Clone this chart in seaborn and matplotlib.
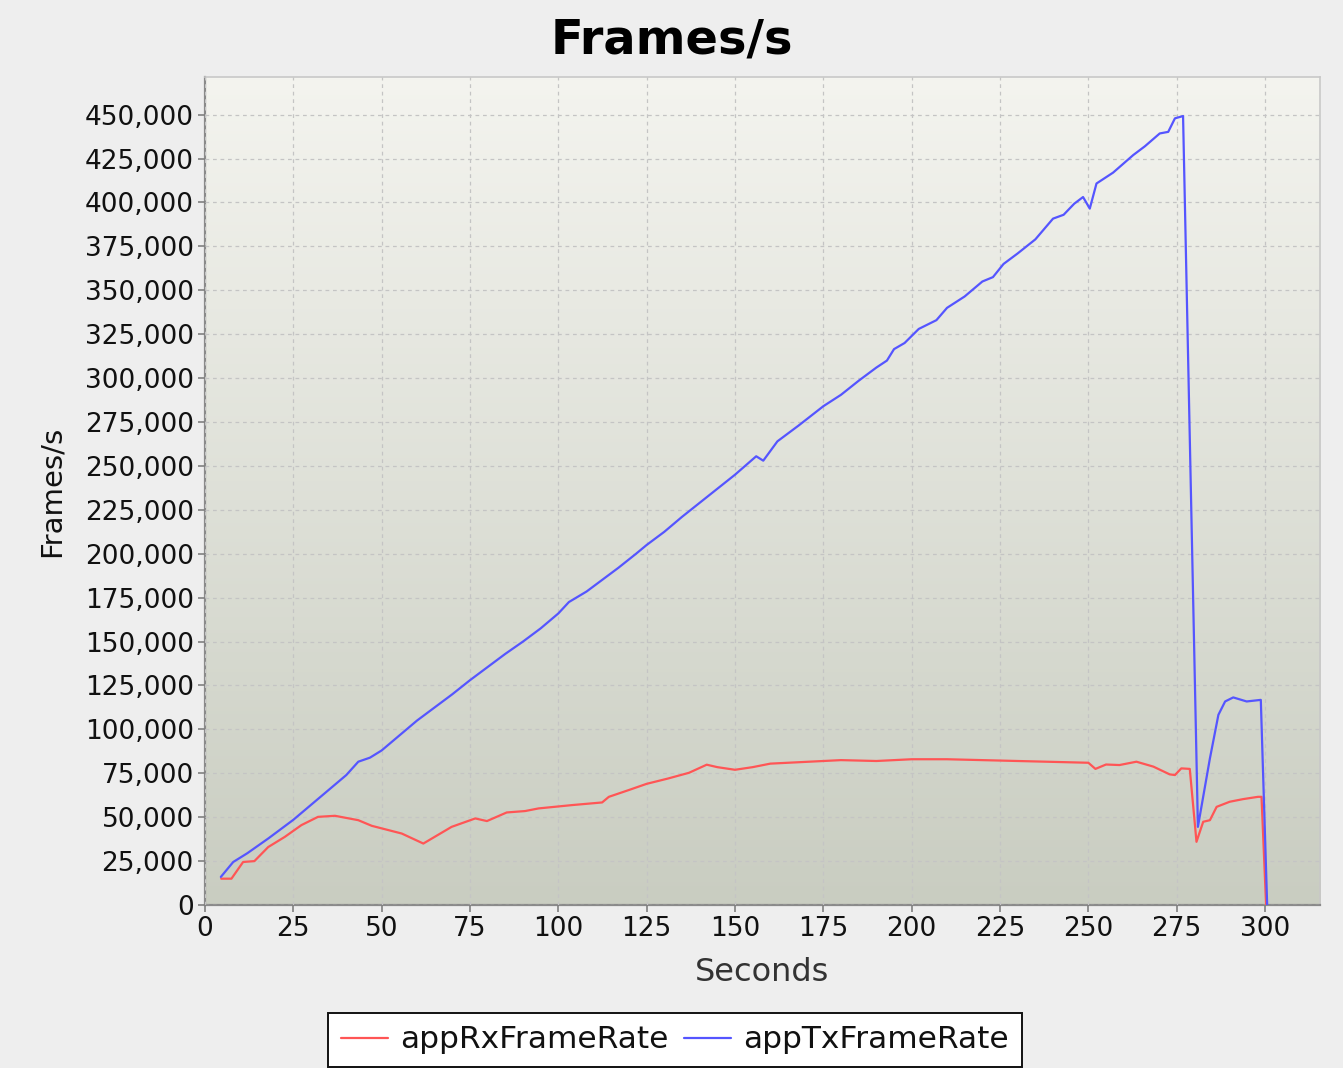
import matplotlib
matplotlib.use("Agg")

import matplotlib.pyplot as plt
import numpy as np
import pandas as pd
import seaborn as sns
from matplotlib.colors import LinearSegmentedColormap
from matplotlib.ticker import FuncFormatter, MultipleLocator

# appRxFrameRate (seconds, frames/s)
rx_seconds = [4.6, 7.5, 10.8, 14, 17.9, 22.6, 27.3, 32, 36.8, 43.4, 47.2, 55.7,
              61.8, 69.8, 76.5, 79.8, 85.4, 90.6, 94.4, 103.9, 112.4, 114.3,
              120, 125, 131, 137, 142, 145, 150, 155, 160, 170, 180, 190, 200,
              210, 220, 230, 240, 250, 252, 255, 258.8, 263.6, 268.4, 273,
              274.5, 276.3, 278.7, 280.6, 282.5, 284.4, 286.3, 290, 293.8,
              298, 299, 300.3]
rx_values = [15000, 15000, 24500, 25000, 33000, 38800, 45500, 50200, 50800,
             48300, 45100, 40700, 35000, 44500, 49300, 47800, 52700, 53500,
             55000, 56900, 58400, 61600, 65500, 69000, 72000, 75300, 79900,
             78500, 77000, 78500, 80500, 81500, 82500, 82000, 83000, 83000,
             82500, 82000, 81500, 81000, 77500, 80000, 79700, 81600, 78800,
             74400, 74000, 77800, 77500, 36000, 47400, 48300, 55900, 58800,
             60300, 61600, 61600, 0]

# appTxFrameRate (seconds, frames/s)
tx_seconds = [4.5, 8, 12, 18, 25, 30, 35, 40, 43.4, 46.7, 50, 55, 60, 65, 70,
              75, 80, 85, 90, 95, 100, 103, 108, 112, 117, 122, 125, 130, 135,
              140, 145, 150, 154, 156, 158, 162, 168, 175, 180, 185, 190, 193,
              195, 198, 202, 207, 210, 215, 220, 223, 226, 230, 235, 240, 243,
              246, 248.5, 250.4, 252.3, 257, 262.7, 266, 270.2, 272.6, 274.5,
              276.8, 281, 284.4, 286.8, 288.7, 291, 294.8, 298.8, 300.6]
tx_values = [16000, 24500, 29500, 38000, 48500, 57000, 65500, 74000, 81600,
             83900, 88000, 96500, 105000, 112500, 120000, 128000, 135500,
             143000, 150000, 157500, 166000, 172500, 178500, 184500, 192000,
             200000, 205000, 212500, 221000, 229000, 237000, 245000, 252000,
             255500, 253000, 264000, 273000, 284000, 290500, 298500, 306000,
             310000, 316500, 320000, 328000, 333000, 340000, 346500, 355000,
             357500, 365000, 371000, 379000, 390800, 393000, 399300, 403100,
             396500, 410800, 417000, 427000, 432000, 439300, 440200, 447900,
             449200, 44500, 83500, 108300, 115900, 118200, 115900, 116800, 0]

series_names = ["appRxFrameRate", "appTxFrameRate"]
series_colors = ["#FF5555", "#5555FF"]

df = pd.concat([
    pd.DataFrame({"Seconds": rx_seconds, "Frames/s": rx_values, "series": series_names[0]}),
    pd.DataFrame({"Seconds": tx_seconds, "Frames/s": tx_values, "series": series_names[1]}),
])

sns.set_theme(style="whitegrid")
plt.rcParams["font.family"] = ["DejaVu Sans"]

fig = plt.figure(figsize=(13.43, 10.68), dpi=100, facecolor="#EEEEEE")
ax = fig.add_axes([0.1526, 0.1526, 0.8304, 0.7754])

# gradient plot background
grad_cmap = LinearSegmentedColormap.from_list("bg", ["#C9CDC1", "#F4F4EF"])
ax.imshow(np.linspace(0, 1, 256).reshape(-1, 1), cmap=grad_cmap, origin="lower",
          extent=[0, 1, 0, 1], transform=ax.transAxes, aspect="auto", zorder=0)

sns.lineplot(data=df, x="Seconds", y="Frames/s", hue="series",
             palette=dict(zip(series_names, series_colors)), estimator=None,
             sort=False, linewidth=1.6, ax=ax, zorder=3)

ax.set_xlim(0, 315.6)
ax.set_ylim(0, 471500)
ax.xaxis.set_major_locator(MultipleLocator(25))
ax.yaxis.set_major_locator(MultipleLocator(25000))
ax.yaxis.set_major_formatter(FuncFormatter(lambda v, _: f"{int(v):,}"))

ax.grid(True, color="#C4C4C4", linestyle=(0, (3, 3)), linewidth=0.9, zorder=1)
ax.set_axisbelow(False)
for side in ["top", "right"]:
    ax.spines[side].set_color("#C8C8C8")
    ax.spines[side].set_linewidth(1.2)
for side in ["left", "bottom"]:
    ax.spines[side].set_color("#8A8A8A")
    ax.spines[side].set_linewidth(1.6)
ax.tick_params(axis="both", which="major", direction="out", length=5, width=1.2,
               color="#808080", labelsize=19, labelcolor="#111111", pad=3,
               bottom=True, left=True)

ax.set_xlabel("Seconds", fontsize=23, color="#333333", labelpad=11)
ax.set_ylabel("Frames/s", fontsize=21, color="#111111", labelpad=14)
fig.suptitle("Frames/s", fontsize=34.5, fontweight="bold", color="black", y=0.985)

ax.get_legend().remove()
handles, labels = ax.get_legend_handles_labels()
leg = fig.legend(handles, labels, loc="upper center", bbox_to_anchor=(0.5026, 0.0515),
                 borderaxespad=0, ncol=2, frameon=True, fancybox=False, fontsize=22.5,
                 handlelength=1.5, handletextpad=0.4, columnspacing=0.5,
                 borderpad=0.4, edgecolor="#111111", facecolor="white", framealpha=1,
                 labelcolor="#111111")
leg.get_frame().set_linewidth(1.4)

fig.savefig("out.png", dpi=100, facecolor=fig.get_facecolor())
